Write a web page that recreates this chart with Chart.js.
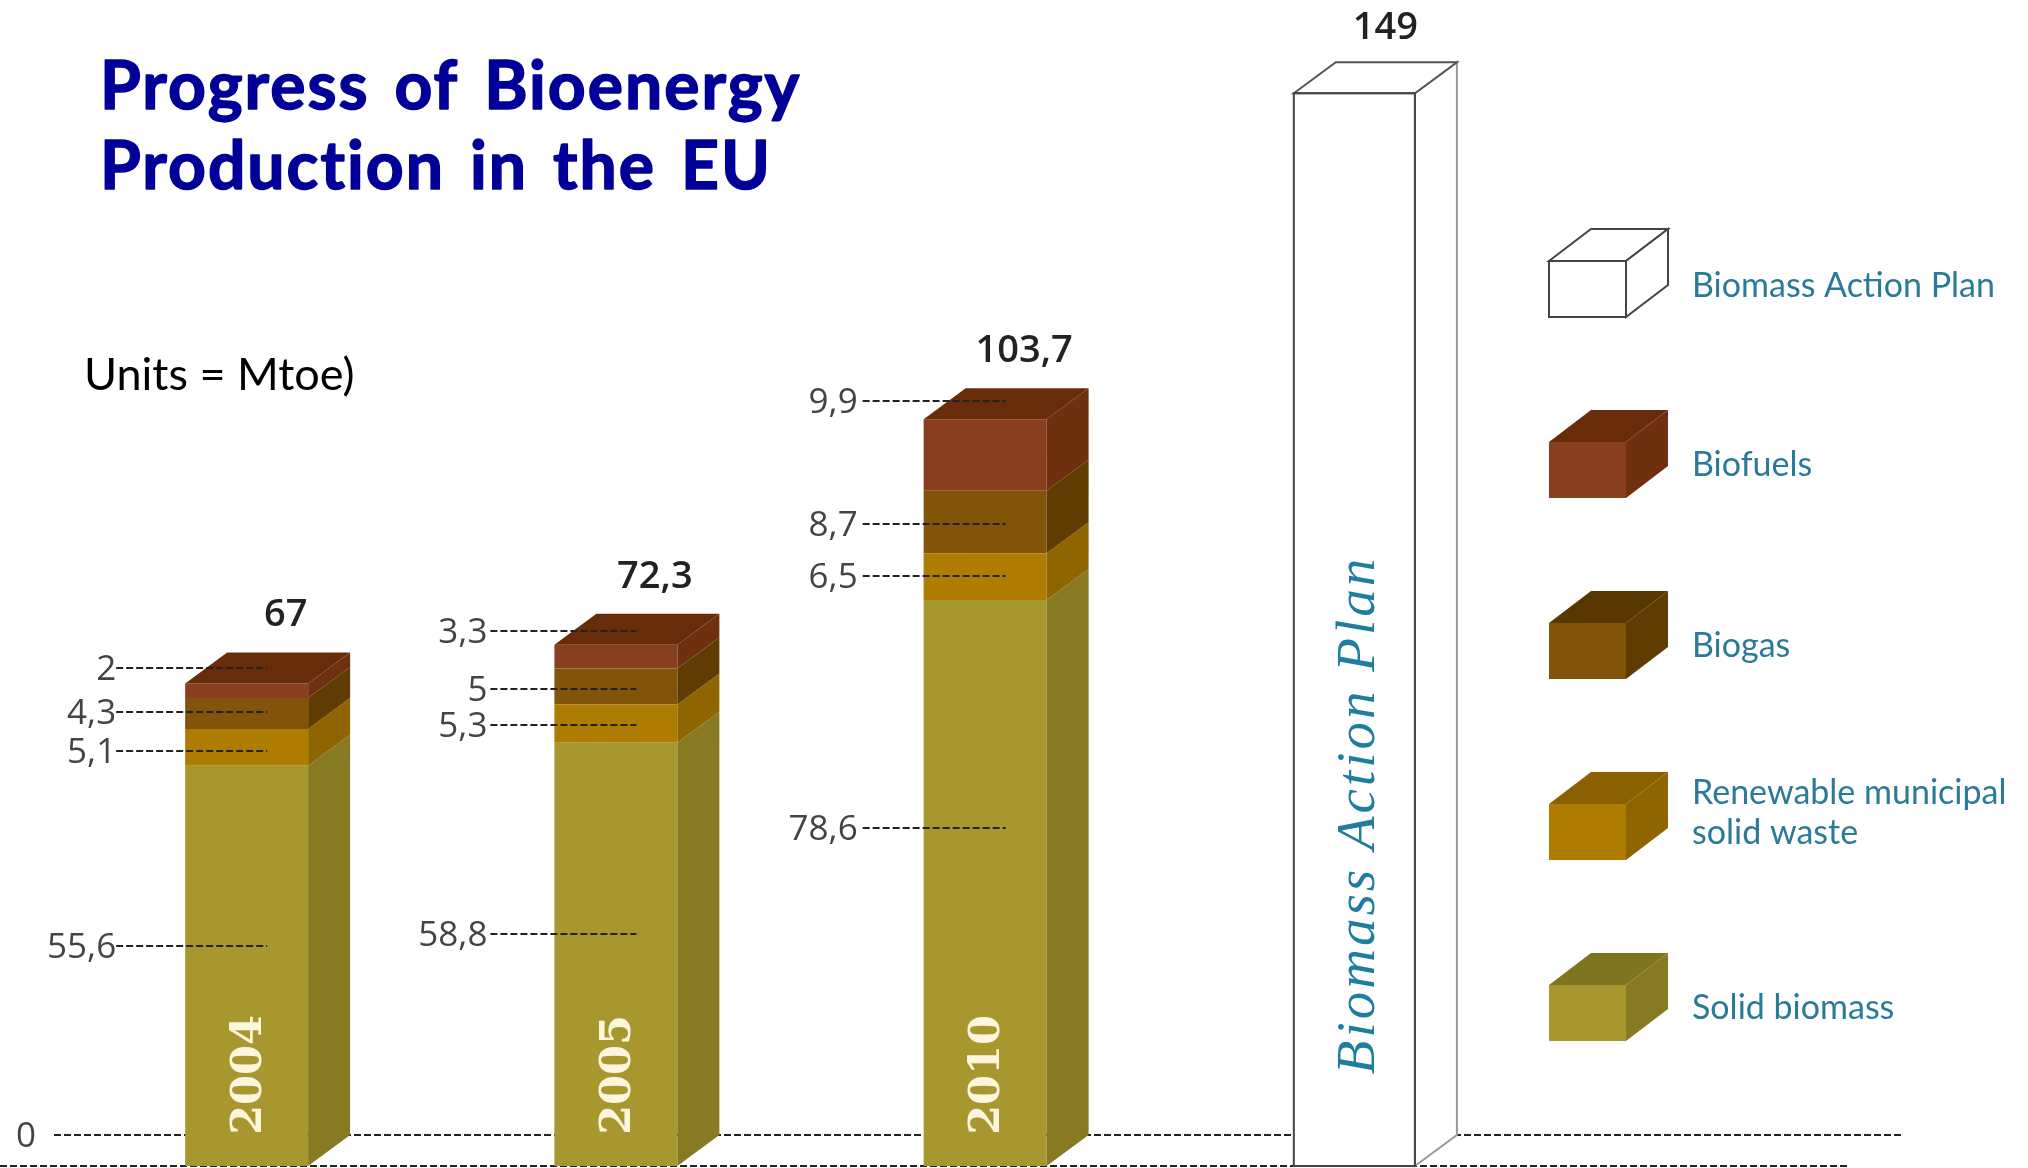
<!DOCTYPE html>
<html>
<head>
<meta charset="utf-8">
<title>Progress of Bioenergy Production in the EU</title>
<script src="https://cdn.jsdelivr.net/npm/chart.js@4"></script>
<style>
  html, body { margin: 0; padding: 0; background: #fff; }
  canvas { display: block; }
</style>
</head>
<body>
<canvas id="chart" width="2028" height="1168"></canvas>
<script>
const categories = ['2004', '2005', '2010', 'Biomass Action Plan']
const solidBiomass = [55.6, 58.8, 78.6, null]
const municipalWaste = [5.1, 5.3, 6.5, null]
const biogas = [4.3, 5, 8.7, null]
const biofuels = [2, 3.3, 9.9, null]
const actionPlan = [null, null, null, 149]
const totals = [67, 72.3, 103.7, 149]

// where the dashed leaders sit, in Mtoe (they are not segment centres)
const leaderSolid = [30.6, 32.2, 47]
const leaderWaste = [57.6, 61.2, 82]
const leaderBiogas = [63, 66.2, 89.2]
const leaderBiofuels = [69.1, 74.3, 106.3]

const titleLines = ['Progress of Bioenergy', 'Production in the EU']
const unitsNote = 'Units = Mtoe)'

const frontColors = ['#a8962f', '#ae7c00', '#815409', '#873f20', '#ffffff']
const sideColors = ['#877a22', '#8e6500', '#5e3c02', '#6f3010', '#ffffff']
const topColors = ['#7f7520', '#8a6000', '#583700', '#692c0b', '#ffffff']
const leaders = [leaderSolid, leaderWaste, leaderBiogas, leaderBiofuels]
const depthX = 42
const depthY = 31

function comma(v) {
  return String(v).replace('.', ',')
}

function poly(ctx, pts, fill, stroke) {
  ctx.beginPath()
  pts.forEach((p, i) => i ? ctx.lineTo(p[0], p[1]) : ctx.moveTo(p[0], p[1]))
  ctx.closePath()
  if (fill) { ctx.fillStyle = fill; ctx.fill() }
  if (stroke) { ctx.strokeStyle = stroke; ctx.lineWidth = 2; ctx.stroke() }
}

function dashed(ctx, x1, x2, y) {
  ctx.save()
  ctx.setLineDash([7, 3])
  ctx.strokeStyle = '#222'
  ctx.lineWidth = 2
  ctx.beginPath()
  ctx.moveTo(x1, Math.round(y))
  ctx.lineTo(x2, Math.round(y))
  ctx.stroke()
  ctx.restore()
}

// one box of the legend, same faces as the bars
function drawSwatch(ctx, x, y, i, outlined) {
  const w = 77, h = 56, dx = 42, dy = 32
  const line = outlined ? '#444' : null
  poly(ctx, [[x, y], [x + dx, y - dy], [x + w + dx, y - dy], [x + w, y]], topColors[i], line)
  poly(ctx, [[x + w, y], [x + w + dx, y - dy], [x + w + dx, y + h - dy], [x + w, y + h]], sideColors[i], line)
  poly(ctx, [[x, y], [x + w, y], [x + w, y + h], [x, y + h]], frontColors[i], line)
}

const baselines = {
  id: 'baselines',
  beforeDatasetsDraw(chart) {
    const ctx = chart.ctx
    const zero = chart.scales.y.getPixelForValue(0)
    dashed(ctx, 0, 1850, zero)
    dashed(ctx, 54, 1901, zero - depthY)
    ctx.save()
    ctx.font = '35px "Open Sans"'
    ctx.fillStyle = '#444'
    ctx.textAlign = 'left'
    ctx.textBaseline = 'middle'
    ctx.fillText('0', 16, zero - depthY + 2)
    ctx.restore()
  }
}

const boxes = {
  id: 'boxes',
  afterDatasetsDraw(chart) {
    const ctx = chart.ctx
    const y = chart.scales.y
    const count = chart.data.datasets.length
    ctx.save()

    // side and top faces
    categories.forEach((cat, c) => {
      let last = -1
      for (let d = 0; d < count; d++) {
        if (chart.data.datasets[d].data[c] == null) continue
        const bar = chart.getDatasetMeta(d).data[c]
        const r = bar.x + bar.width / 2
        const outline = d == 4 ? '#999' : null
        poly(ctx, [[r, bar.base], [r + depthX, bar.base - depthY], [r + depthX, bar.y - depthY], [r, bar.y]], sideColors[d], outline)
        last = d
      }
      const bar = chart.getDatasetMeta(last).data[c]
      const l = bar.x - bar.width / 2, r = bar.x + bar.width / 2
      poly(ctx, [[l, bar.y], [l + depthX, bar.y - depthY], [r + depthX, bar.y - depthY], [r, bar.y]], topColors[last], last == 4 ? '#555' : null)
      if (last == 4) {
        ctx.strokeStyle = '#444'
        ctx.lineWidth = 2
        ctx.strokeRect(l, bar.y, bar.width, bar.base - bar.y)
      }

      // total above the box
      ctx.font = '600 38px "Open Sans"'
      ctx.fillStyle = '#222'
      ctx.textAlign = 'center'
      ctx.textBaseline = 'middle'
      const plan = last == 4
      ctx.fillText(comma(totals[c]), bar.x + (plan ? 31 : 39), bar.y - depthY - (plan ? 34 : 37))
    })

    // leaders and segment values
    const startOffset = [69, 64, 61]
    const labelGap = [0, 3, 5]
    leaders.forEach((vals, d) => {
      vals.forEach((v, c) => {
        const bar = chart.getDatasetMeta(d).data[c]
        const left = bar.x - bar.width / 2
        const py = y.getPixelForValue(v)
        dashed(ctx, left - startOffset[c], left + 82, py)
        ctx.font = '35px "Open Sans"'
        ctx.fillStyle = '#444'
        ctx.textAlign = 'right'
        ctx.textBaseline = 'middle'
        ctx.fillText(comma(chart.data.datasets[d].data[c]), left - startOffset[c] - labelGap[c], py + 2)
      })
    })

    // names written up the front of the bars
    categories.forEach((cat, c) => {
      const plan = c == 3
      const bar = chart.getDatasetMeta(plan ? 4 : 0).data[c]
      ctx.save()
      ctx.translate(bar.x + (plan ? 5 : 3), bar.base - (plan ? 351 : 91))
      ctx.rotate(-Math.PI / 2)
      ctx.textAlign = 'center'
      ctx.textBaseline = 'middle'
      if (plan) {
        ctx.font = 'italic 55px "Liberation Serif"'
        ctx.letterSpacing = '3px'
        ctx.fillStyle = '#1f7d9f'
      } else {
        ctx.font = 'bold 43px "DejaVu Serif"'
        ctx.fillStyle = '#fbf6dc'
      }
      ctx.fillText(cat, 0, 0)
      ctx.restore()
    })
    ctx.restore()
  }
}

const sideLegend = {
  id: 'sideLegend',
  afterDraw(chart) {
    const ctx = chart.ctx
    const sets = chart.data.datasets
    ctx.save()
    ctx.font = '34px Lato'
    ctx.textAlign = 'left'
    ctx.textBaseline = 'middle'
    for (let row = 0; row < sets.length; row++) {
      const d = sets.length - 1 - row
      const top = 261 + row * 181
      drawSwatch(ctx, 1549, top, d, d == 4)
      // wrap the long label as the legend does
      const lines = []
      let cur = ''
      for (let word of sets[d].label.split(' ')) {
        const next = cur ? cur + ' ' + word : word
        if (ctx.measureText(next).width > 332) { lines.push(cur); cur = word } else cur = next
      }
      lines.push(cur)
      const first = lines.length > 1 ? top - 11 : top + (row == 0 ? 25 : 23)
      ctx.fillStyle = '#2a7a98'
      lines.forEach((t, i) => ctx.fillText(t, 1692, first + i * 40))
    }
    ctx.restore()
  }
}

const headings = {
  id: 'headings',
  afterDraw(chart) {
    const ctx = chart.ctx
    ctx.save()
    ctx.textAlign = 'left'
    ctx.textBaseline = 'alphabetic'
    ctx.font = 'bold 66px Lato'
    ctx.fillStyle = '#000099'
    ctx.strokeStyle = '#000099'
    ctx.lineWidth = 1.5
    ctx.lineJoin = 'round'
    ctx.letterSpacing = '2px'
    ctx.wordSpacing = '7px'
    titleLines.forEach((t, i) => {
      ctx.fillText(t, 100, 109 + i * 80)
      ctx.strokeText(t, 100, 109 + i * 80)
    })
    ctx.letterSpacing = '0px'
    ctx.wordSpacing = '0px'
    ctx.font = '45px Lato'
    ctx.fillStyle = '#000'
    ctx.fillText(unitsNote, 84, 390)
    ctx.restore()
  }
}

new Chart(document.getElementById('chart').getContext('2d'), {
  type: 'bar',
  data: {
    labels: categories,
    datasets: [
      { label: 'Solid biomass', data: solidBiomass, backgroundColor: frontColors[0] },
      { label: 'Renewable municipal solid waste', data: municipalWaste, backgroundColor: frontColors[1] },
      { label: 'Biogas', data: biogas, backgroundColor: frontColors[2] },
      { label: 'Biofuels', data: biofuels, backgroundColor: frontColors[3] },
      { label: 'Biomass Action Plan', data: actionPlan, backgroundColor: frontColors[4], barPercentage: 0.328 }
    ]
  },
  options: {
    responsive: false,
    animation: false,
    layout: { padding: { left: 62, right: 489, top: 14, bottom: 2 } },
    datasets: { bar: { categoryPercentage: 1, barPercentage: 0.333 } },
    scales: {
      x: { stacked: true, display: false },
      y: { stacked: true, display: false, min: 0, max: 160 }
    },
    plugins: {
      legend: { display: false },
      title: { display: false },
      tooltip: { enabled: false }
    }
  },
  plugins: [baselines, boxes, sideLegend, headings]
})
</script>
</body>
</html>
